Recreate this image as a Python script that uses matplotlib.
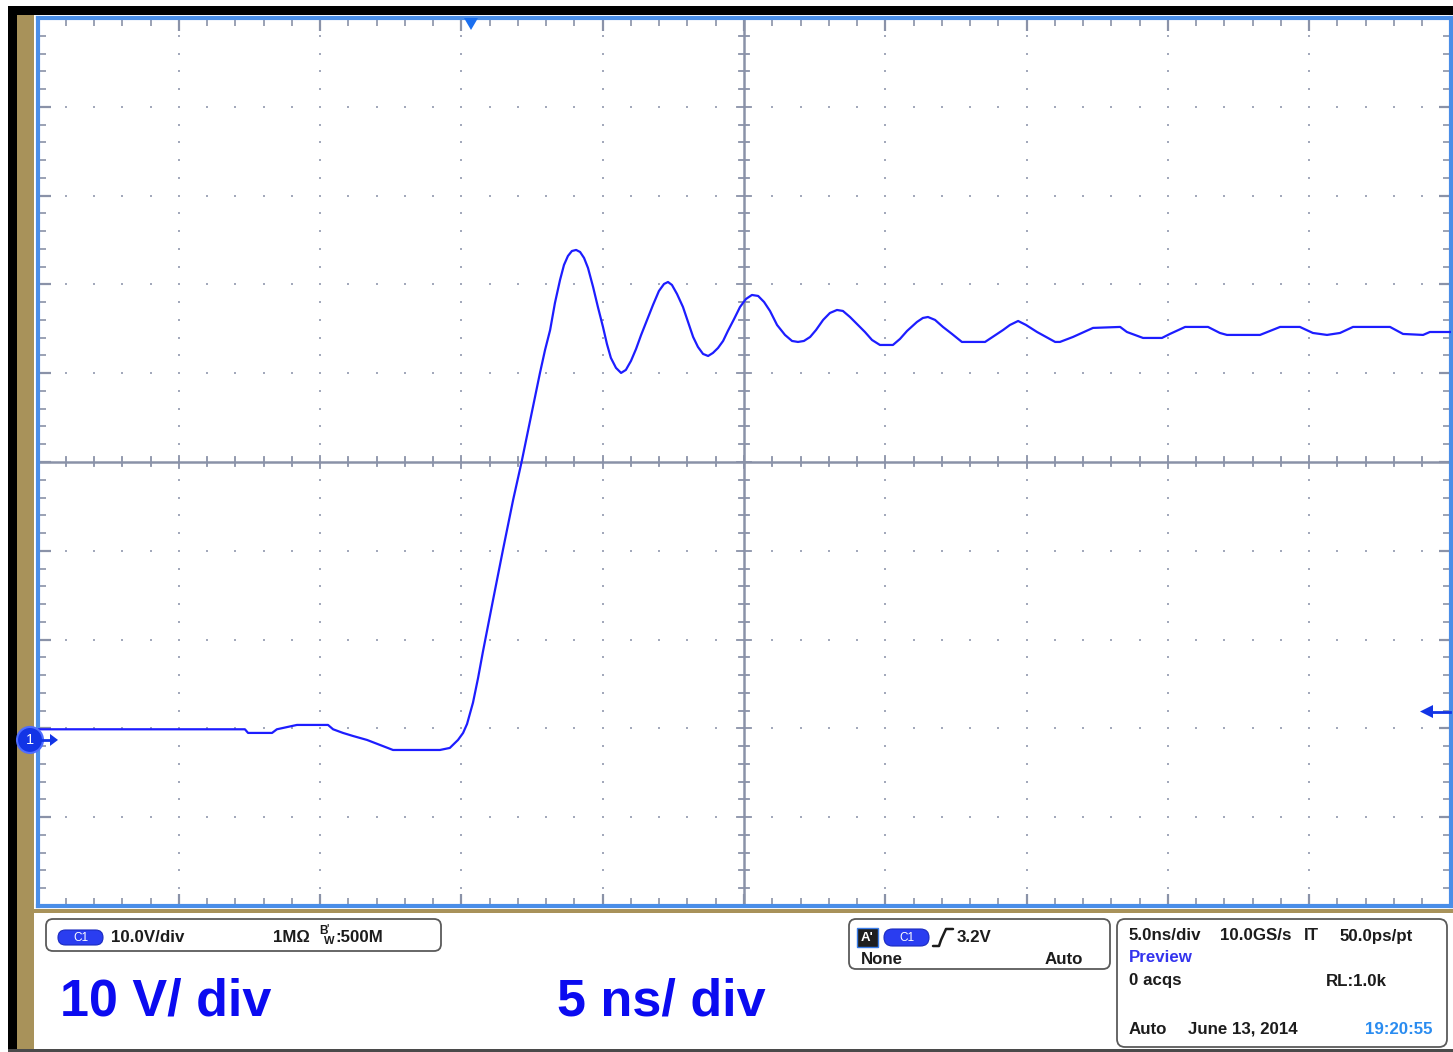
import numpy as np
import matplotlib
matplotlib.use('Agg')
import matplotlib.pyplot as plt
from matplotlib.patches import Rectangle, FancyBboxPatch, Polygon, Circle

plt.rcParams['font.family'] = ['Liberation Sans', 'DejaVu Sans']

# ---------------- data ----------------
time_ns = [-25.0, -17.66, -17.55, -16.70, -16.53, -15.82, -14.72, -14.54, -14.19, -13.84,
           -13.34, -12.88, -12.42, -10.76, -10.41, -10.12, -9.94, -9.80, -9.59, -9.41,
           -9.24, -8.88, -8.53, -8.17, -7.87, -7.57, -7.22, -7.04, -6.86, -6.69,
           -6.51, -6.37, -6.23, -6.09, -5.94, -5.80, -5.66, -5.52, -5.34, -5.17,
           -4.99, -4.85, -4.71, -4.53, -4.35, -4.18, -4.00, -3.82, -3.64, -3.43,
           -3.22, -3.01, -2.83, -2.69, -2.55, -2.37, -2.16, -1.98, -1.80, -1.63,
           -1.45, -1.27, -1.10, -0.92, -0.74, -0.57, -0.35, -0.14, 0.07, 0.28,
           0.50, 0.71, 0.92, 1.17, 1.45, 1.70, 1.91, 2.12, 2.34, 2.55,
           2.80, 3.04, 3.29, 3.50, 3.75, 4.03, 4.28, 4.53, 4.81, 5.27,
           5.52, 5.77, 6.12, 6.33, 6.51, 6.76, 7.04, 7.36, 7.71, 8.53,
           8.85, 9.17, 9.41, 9.70, 9.98, 10.37, 10.69, 11.01, 11.18, 11.64,
           12.35, 13.31, 13.55, 14.12, 14.79, 15.07, 15.61, 16.42, 16.84, 17.09,
           18.26, 18.97, 19.67, 20.13, 20.63, 21.09, 21.55, 22.86, 23.32, 24.03,
           24.27, 25.0]
volts = [1.20, 1.20, 0.79, 0.79, 1.20, 1.69, 1.69, 1.20, 0.79, 0.45,
         0.00, -0.56, -1.13, -1.13, -0.90, 0.00, 0.79, 1.80, 4.20, 6.98,
         9.91, 15.77, 21.40, 27.03, 31.31, 35.92, 41.33, 43.92, 46.17, 49.21,
         51.80, 53.49, 54.50, 55.06, 55.18, 54.95, 54.28, 53.15, 51.01, 48.76,
         46.51, 44.59, 43.02, 41.90, 41.33, 41.67, 42.68, 44.03, 45.61, 47.30,
         48.99, 50.56, 51.35, 51.57, 51.24, 50.22, 48.76, 47.07, 45.38, 44.26,
         43.47, 43.24, 43.58, 44.14, 44.93, 46.06, 47.41, 48.76, 49.66, 50.11,
         50.00, 49.32, 48.31, 46.73, 45.61, 44.93, 44.82, 44.93, 45.38, 46.17,
         47.30, 48.08, 48.42, 48.31, 47.63, 46.73, 45.94, 45.04, 44.48, 44.48,
         45.16, 46.06, 47.07, 47.52, 47.63, 47.30, 46.51, 45.72, 44.82, 44.82,
         45.49, 46.17, 46.73, 47.18, 46.73, 45.94, 45.38, 44.82, 44.82, 45.38,
         46.40, 46.51, 45.94, 45.27, 45.27, 45.72, 46.51, 46.51, 45.83, 45.61,
         45.61, 46.51, 46.51, 45.83, 45.61, 45.83, 46.51, 46.51, 45.72, 45.61,
         45.94, 45.94]

ns_per_div = 5.0
volts_per_div = 10.0
trigger_level_v = 3.2
trigger_pos_ns = -9.66

channel_labels = ["10.0V/div", "1M\u03a9", ":500M"]
trigger_labels = ["3.2V", "None", "Auto"]
horiz_labels = ["5.0ns/div", "10.0GS/s", "IT", "50.0ps/pt"]
acq_labels = ["Preview", "0 acqs", "RL:1.0k", "Auto", "June 13, 2014", "19:20:55"]
big_labels = ["10 V/ div", "5 ns/ div"]

# ---------------- layout ----------------
W, H = 1453, 1052
PL, PR, PT, PB = 37.5, 1450.5, 18.0, 906.0   # plot area in pixels
ground_offset_div = 3.13                      # ground marker below centre
center_v = ground_offset_div * volts_per_div
ylim = (center_v - 5 * volts_per_div, center_v + 5 * volts_per_div)
xlim = (-5 * ns_per_div, 5 * ns_per_div)

GRID = '#8a92a8'
DOT = '#a3a9bb'
SPINE = '#4a8ee8'
TAN = '#a8925a'
WAVE = '#1d1dff'
DARK = '#1c1c1c'

fig = plt.figure(figsize=(W / 100, H / 100), dpi=100)
fig.patch.set_facecolor('white')

# background decorations (pixel coordinates)
bg = fig.add_axes([0, 0, 1, 1], zorder=0)
bg.set_xlim(0, W); bg.set_ylim(H, 0); bg.axis('off')
bg.add_patch(Rectangle((8, 6), W - 8, 9, color='black', lw=0))
bg.add_patch(Rectangle((8, 6), 9, H - 6, color='black', lw=0))
bg.add_patch(Rectangle((17, 15), 17, H - 15, color=TAN, lw=0))
bg.add_patch(Rectangle((17, 909), W - 17, 4, color=TAN, lw=0))
bg.add_patch(Rectangle((8, 1049), W - 8, 3, color='#4a4a4a', lw=0))

# ---------------- oscilloscope graticule ----------------
ax = fig.add_axes([PL / W, (H - PB) / H, (PR - PL) / W, (PB - PT) / H], zorder=2)
ax.set_xlim(*xlim)
ax.set_ylim(*ylim)
ax.set_facecolor('white')
for s in ax.spines.values():
    s.set_color(SPINE)
    s.set_linewidth(3.0)

xmaj = np.arange(xlim[0], xlim[1] + 0.01, ns_per_div)
xmin = np.arange(xlim[0], xlim[1] + 0.01, ns_per_div / 5)
ymaj = center_v + np.arange(-5, 6) * volts_per_div
ymin = center_v + np.arange(-25, 26) * volts_per_div / 5

ax.set_xticks(xmaj)
ax.set_xticks(xmin, minor=True)
ax.set_yticks(ymaj)
ax.set_yticks(ymin, minor=True)
ax.tick_params(which='both', direction='in', top=True, bottom=True, left=True, right=True,
               labelbottom=False, labelleft=False, color=GRID)
ax.tick_params(which='major', length=9, width=1.6)
ax.tick_params(which='minor', length=6, width=1.2)

# dotted grid
dx, dy = [], []
for xv in xmaj[1:-1]:
    if abs(xv) < 1e-9:
        continue
    dx += [xv] * len(ymin); dy += list(ymin)
for yv in ymaj[1:-1]:
    if abs(yv - center_v) < 1e-9:
        continue
    dx += list(xmin); dy += [yv] * len(xmin)
ax.scatter(dx, dy, s=2.6, marker='s', color=DOT, linewidths=0, zorder=1)

# centre cross with ticks
ax.axvline(0, color=GRID, lw=1.8, zorder=1.5)
ax.axhline(center_v, color=GRID, lw=1.8, zorder=1.5)
px_x = (xlim[1] - xlim[0]) / (PR - PL)
px_y = (ylim[1] - ylim[0]) / (PB - PT)
for yv in ymin:
    half = 7 if np.any(np.isclose(yv, ymaj)) else 5
    ax.plot([-half * px_x, half * px_x], [yv, yv], color=GRID, lw=1.3, zorder=1.5)
for xv in xmin:
    half = 6 if np.any(np.isclose(xv, xmaj)) else 4.5
    ax.plot([xv, xv], [center_v - half * px_y, center_v + half * px_y], color=GRID, lw=1.3, zorder=1.5)

# waveform
ax.plot(time_ns, volts, color=WAVE, lw=1.6, zorder=3, solid_joinstyle='round')

# ---------------- foreground markers and info panels (pixels) ----------------
fg = fig.add_axes([0, 0, 1, 1], zorder=5)
fg.set_xlim(0, W); fg.set_ylim(H, 0); fg.axis('off')
fg.patch.set_alpha(0)

def v2px(v):
    return PB - (v - ylim[0]) / (ylim[1] - ylim[0]) * (PB - PT)

def t2px(t):
    return PL + (t - xlim[0]) / (xlim[1] - xlim[0]) * (PR - PL)

gy = v2px(0.0)
fg.add_patch(Circle((30, gy), 13, fc='#1234e6', ec='#4f6dff', lw=1.5))
fg.text(30, gy + 0.5, '1', color='white', fontsize=10.5, ha='center', va='center')
fg.plot([42, 51], [gy, gy], color='#1234e6', lw=2)
fg.add_patch(Polygon([[50, gy - 6], [58, gy], [50, gy + 6]], color='#1234e6', lw=0))

tx = t2px(trigger_pos_ns)
fg.add_patch(Polygon([[tx - 7, PT], [tx + 7, PT], [tx, PT + 12]], color='#1a6ff0', lw=0))

ty = v2px(trigger_level_v)
fg.plot([1431, 1450], [ty, ty], color='#1234e6', lw=2)
fg.add_patch(Polygon([[1420, ty], [1433, ty - 6.5], [1433, ty + 6.5]], color='#1234e6', lw=0))

def rbox(x, y, w, h, r=7):
    fg.add_patch(FancyBboxPatch((x, y), w, h, boxstyle=f'round,pad=0,rounding_size={r}',
                                fc='white', ec='#5a5a5a', lw=1.3))

def pill(x, y, w, h):
    fg.add_patch(FancyBboxPatch((x, y), w, h, boxstyle=f'round,pad=0,rounding_size={h/2}',
                                fc='#2a3df0', ec='#1a2ac0', lw=0.8))
    fg.text(x + w / 2, y + h / 2 + 0.5, 'C1', color='white', fontsize=8.5, ha='center', va='center')

FS = 12.2
txt = dict(fontsize=FS, fontweight='bold', color=DARK, va='center')

# channel box
rbox(46, 919, 395, 32)
pill(58, 930, 45, 15)
fg.text(111, 937, channel_labels[0], ha='left', **txt)
fg.text(273, 937, channel_labels[1], ha='left', **txt)
fg.text(319, 931, 'B', fontsize=8.5, fontweight='bold', color=DARK, ha='left', va='center')
fg.text(326.5, 928.5, "'", fontsize=7, fontweight='bold', color=DARK, ha='left', va='center')
fg.text(323.5, 941, 'W', fontsize=8, fontweight='bold', color=DARK, ha='left', va='center')
fg.text(335, 937, channel_labels[2], ha='left', **txt)

# big annotations
fg.text(60, 1015, big_labels[0], fontsize=37.5, fontweight='bold', color='#0b0bf0', ha='left', va='baseline')
fg.text(557, 1015, big_labels[1], fontsize=37.5, fontweight='bold', color='#0b0bf0', ha='left', va='baseline')

# trigger box
rbox(849, 919, 261, 50)
fg.add_patch(Rectangle((857, 928), 21, 19, fc='#1e1e1e', ec='#3a7de8', lw=1))
fg.text(867.5, 938, "A'", color='white', fontsize=9.5, fontweight='bold', ha='center', va='center')
pill(884, 929, 45, 17)
fg.plot([933, 939, 941, 946, 953], [946, 946, 940, 929, 929], color=DARK, lw=1.8,
        solid_joinstyle='round', solid_capstyle='round')
fg.text(957, 937, trigger_labels[0], ha='left', **txt)
fg.text(861, 960, trigger_labels[1], ha='left', **txt)
fg.text(1083, 960, trigger_labels[2], ha='right', **txt)

# horizontal / acquisition box
rbox(1117, 919, 330, 128, r=8)
fg.text(1129, 936, horiz_labels[0], ha='left', **txt)
fg.text(1220, 936, horiz_labels[1], ha='left', **txt)
fg.text(1304, 936, horiz_labels[2], ha='left', **txt)
fg.text(1340, 936, horiz_labels[3], ha='left', **txt)
fg.text(1129, 957, acq_labels[0], ha='left', fontsize=FS, fontweight='bold', color='#3434ee', va='center')
fg.text(1129, 981, acq_labels[1], ha='left', **txt)
fg.text(1326, 981, acq_labels[2], ha='left', **txt)
fg.text(1129, 1029, acq_labels[3], ha='left', **txt)
fg.text(1188, 1029, acq_labels[4], ha='left', **txt)
fg.text(1433, 1029, acq_labels[5], ha='right', fontsize=FS, fontweight='bold', color='#2a8cf0', va='center')

fig.savefig('out.png', dpi=100, facecolor='white')
